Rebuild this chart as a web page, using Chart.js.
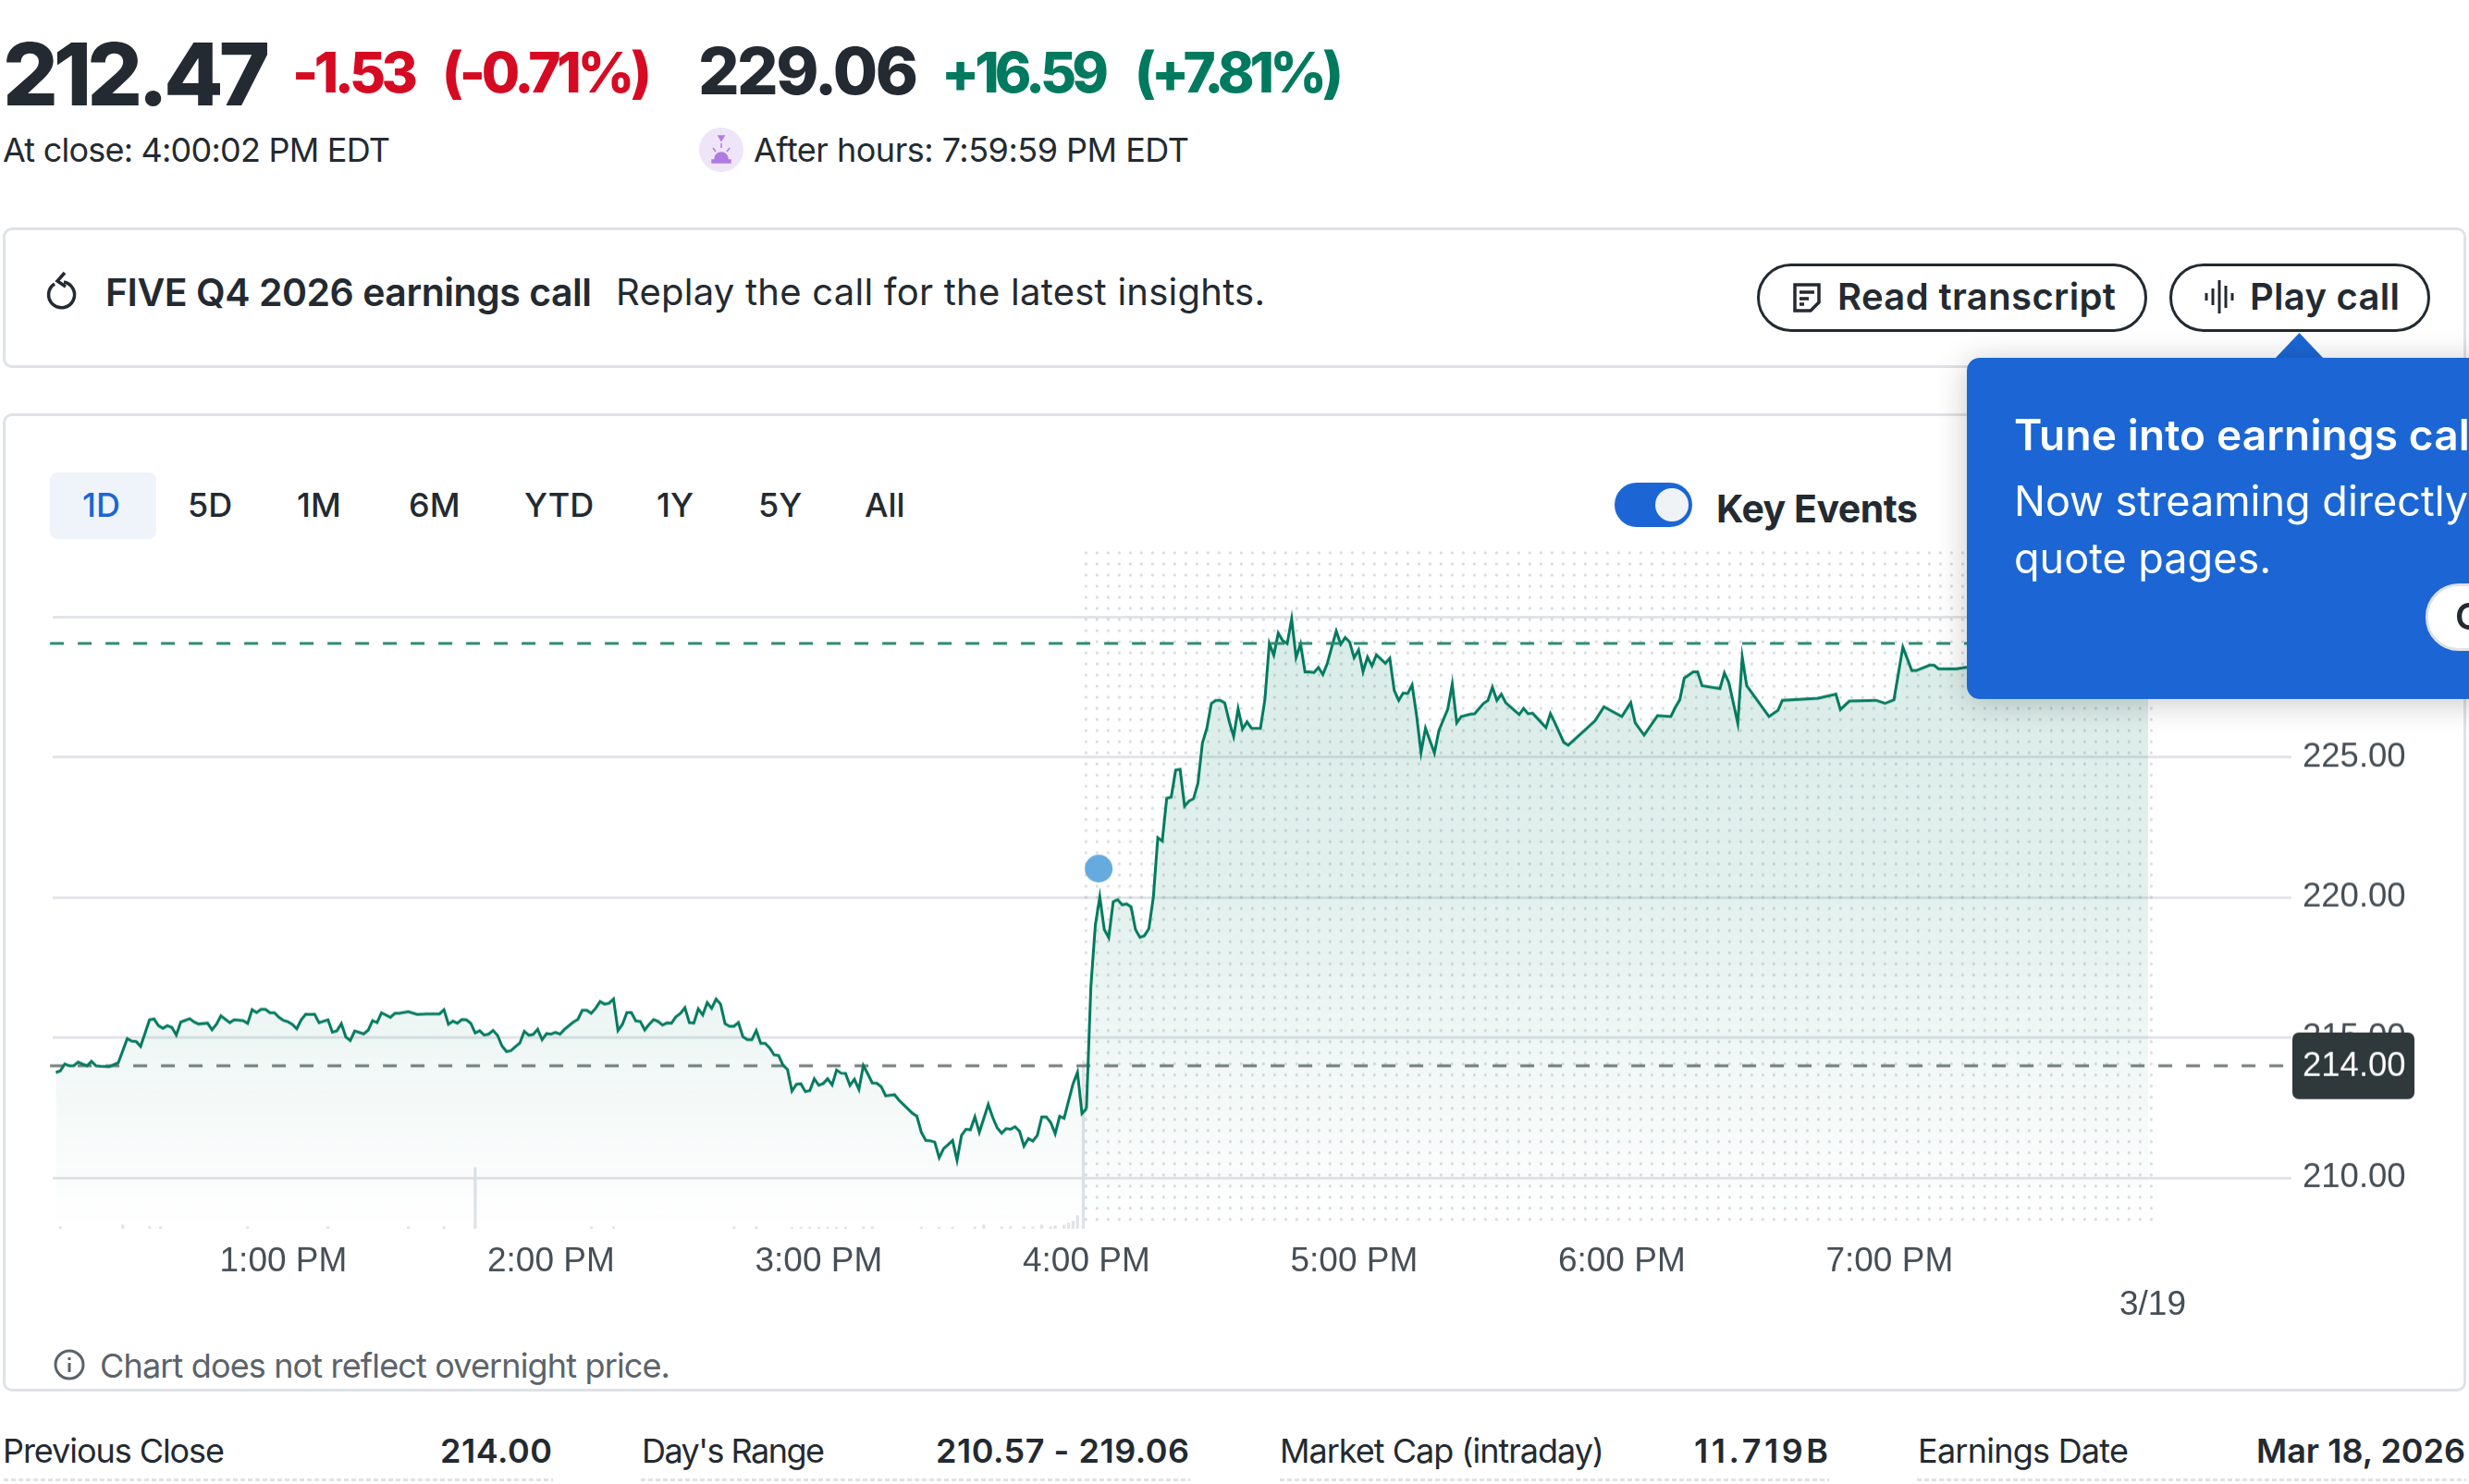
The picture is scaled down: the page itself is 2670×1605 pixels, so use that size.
<!DOCTYPE html>
<html>
<head>
<meta charset="utf-8">
<title>FIVE chart</title>
<script src="https://cdn.jsdelivr.net/npm/chart.js@4/dist/chart.umd.js"></script>
<style>
  html, body { margin: 0; padding: 0; background: #fff; overflow: hidden; width: 2670px; height: 1605px; }
  body { font-family: Inter, "Noto Sans", sans-serif; color: #232a31; position: relative; }
  .t { position: absolute; white-space: nowrap; line-height: 1; transform: translateY(-50%); }
  .card { position: absolute; left: 3px; width: 2664px; box-sizing: border-box; border: 3px solid #dfe2e6; border-radius: 10px; }
  .b { font-weight: 700; }
  .m { font-weight: 600; }
  .under { position: absolute; top: 1599px; height: 3px; background: repeating-linear-gradient(90deg, #dfe2e6 0 5px, transparent 5px 8px); }
  .btn { position: absolute; top: 285px; height: 74px; box-sizing: border-box; border: 3px solid #232a31; border-radius: 37px; }
  .tab { font-weight: 500; font-size: 36px; }
  svg { position: absolute; overflow: visible; }
  #chart { position: absolute; left: 57px; top: 560px; }
  #tip { position: absolute; left: 2127px; top: 387px; width: 600px; height: 369px; background: #1b66d4; border-radius: 14px; box-shadow: 0 4px 34px rgba(0,0,0,.22); z-index: 5; }
  .tipt { color: #fff; z-index: 6; }
</style>
</head>
<body>
<div class="t" style="left:3px;top:80px;font-size:94px;font-weight:800" data-w="289">212.47</div>
<div class="t" style="left:316px;top:78px;font-size:60px;font-weight:800;color:#d60a22" data-w="136">-1.53</div>
<div class="t" style="left:478px;top:78px;font-size:60px;font-weight:800;color:#d60a22" data-w="227">(-0.71%)</div>
<div class="t" style="left:755px;top:77px;font-size:70px;font-weight:800" data-w="238">229.06</div>
<div class="t" style="left:1018px;top:78px;font-size:60px;font-weight:800;color:#007a5e" data-w="181">+16.59</div>
<div class="t" style="left:1227px;top:78px;font-size:60px;font-weight:800;color:#007a5e" data-w="226">(+7.81%)</div>
<div class="t" style="left:3px;top:162px;font-size:36px" data-w="419">At close: 4:00:02 PM EDT</div>
<svg style="left:756px;top:138px" width="48" height="48" viewBox="0 0 48 48">
  <circle cx="24" cy="24" r="24" fill="#efe5f8"/>
  <path d="M21 9h6l-3 5zM24 17v5M15 22l3 4M33 22l-3 4M17 34a7 7 0 0 1 14 0zM14 35h20v3H14z" fill="#b07be0" stroke="#b07be0" stroke-width="1.5"/>
</svg>
<div class="t" style="left:815px;top:162px;font-size:36px" data-w="471">After hours: 7:59:59 PM EDT</div>

<div class="card" style="top:246px;height:152px"></div>
<svg style="left:50px;top:293px" width="34" height="40" viewBox="0 0 34 40" fill="none" stroke="#232a31" stroke-width="3.5">
  <path d="M9 14a14 14 0 1 0 10-2"/><path d="M20 2l-8 9 9 6" />
</svg>
<div class="t m" style="left:114px;top:316px;font-size:41px" data-w="526">FIVE Q4 2026 earnings call</div>
<div class="t" style="left:666px;top:316px;font-size:40px" data-w="702">Replay the call for the latest insights.</div>
<div class="btn" style="left:1900px;width:422px"></div>
<svg style="left:1938px;top:306px" width="32" height="32" viewBox="0 0 32 32" fill="none" stroke="#232a31" stroke-width="3.5">
  <path d="M3 2h26v19l-9 9H3z"/><path d="M8 10h16M8 17h10M8 23h5"/>
</svg>
<div class="t m" style="left:1987px;top:321px;font-size:40px" data-w="301">Read transcript</div>
<div class="btn" style="left:2346px;width:282px"></div>
<svg style="left:2384px;top:303px" width="32" height="36" viewBox="0 0 32 36" stroke="#232a31" stroke-width="3">
  <path d="M2 14v8M9 9v18M16 0v36M23 6v24M30 14v8"/>
</svg>
<div class="t m" style="left:2433px;top:321px;font-size:40px" data-w="162">Play call</div>

<div class="card" style="top:447px;height:1058px"></div>
<div style="position:absolute;left:54px;top:511px;width:115px;height:72px;background:#eff4fb;border-radius:8px"></div>
<div class="t tab" style="left:89px;top:546px;color:#1b66d4">1D</div>
<div class="t tab" style="left:203px;top:546px">5D</div>
<div class="t tab" style="left:321px;top:546px">1M</div>
<div class="t tab" style="left:442px;top:546px">6M</div>
<div class="t tab" style="left:567px;top:546px">YTD</div>
<div class="t tab" style="left:710px;top:546px">1Y</div>
<div class="t tab" style="left:820px;top:546px">5Y</div>
<div class="t tab" style="left:935px;top:546px">All</div>
<div style="position:absolute;left:1746px;top:522px;width:84px;height:48px;background:#1b66d4;border-radius:24px"></div>
<div style="position:absolute;left:1790px;top:528px;width:36px;height:36px;background:#f0f3f5;border-radius:50%"></div>
<div class="t b" style="left:1856px;top:550px;font-size:41px" data-w="218">Key Events</div>

<canvas id="chart" width="2563" height="880"></canvas>

<svg style="left:58px;top:1459px" width="34" height="34" viewBox="0 0 34 34" fill="none" stroke="#5b636a" stroke-width="3">
  <circle cx="17" cy="17" r="15"/><path d="M17 15v10M17 9v3"/>
</svg>
<div class="t" style="left:108px;top:1477px;font-size:36px;color:#5b636a" data-w="617">Chart does not reflect overnight price.</div>

<div class="t" style="left:3px;top:1569px;font-size:36px" data-w="240">Previous Close</div>
<div class="t m" style="left:476px;top:1569px;font-size:36px" data-w="121">214.00</div>
<div class="under" style="left:4px;width:594px"></div>
<div class="t" style="left:694px;top:1569px;font-size:36px" data-w="198">Day's Range</div>
<div class="t m" style="left:1012px;top:1569px;font-size:36px" data-w="274">210.57 - 219.06</div>
<div class="under" style="left:693px;width:594px"></div>
<div class="t" style="left:1384px;top:1569px;font-size:36px" data-w="351">Market Cap (intraday)</div>
<div class="t m" style="left:1832px;top:1569px;font-size:36px" data-w="145">11.719B</div>
<div class="under" style="left:1384px;width:594px"></div>
<div class="t" style="left:2074px;top:1569px;font-size:36px" data-w="228">Earnings Date</div>
<div class="t m" style="left:2440px;top:1569px;font-size:36px" data-w="226">Mar 18, 2026</div>
<div class="under" style="left:2073px;width:594px"></div>

<svg style="left:2460px;top:360px;z-index:5" width="53" height="28" viewBox="0 0 53 28"><path d="M26.5 0L53 28H0z" fill="#1b66d4"/></svg>
<div id="tip"></div>
<div class="t tipt m" style="left:2178px;top:470px;font-size:46px" data-w="505">Tune into earnings call</div>
<div class="t tipt" style="left:2178px;top:541px;font-size:45px">Now streaming directly on</div>
<div class="t tipt" style="left:2178px;top:603px;font-size:45px">quote pages.</div>
<div style="position:absolute;left:2623px;top:631px;width:120px;height:73px;box-sizing:border-box;background:#fff;border:3px solid #dfe2e6;border-radius:36px;z-index:6"></div>
<div class="t m" style="left:2655px;top:667px;font-size:40px;z-index:7">Got it</div>

<script>
// minutes after midnight, from the chart's time axis
const regularTimes = [
  729, 730, 731, 732, 733, 734, 735, 736, 737, 738,
  739, 741, 743, 745, 746, 747, 748, 750, 751, 752,
  753, 754, 755, 756, 757, 759, 760, 761, 763, 764,
  765, 766, 768, 769, 771, 772, 773, 774, 775, 776,
  777, 778, 779, 780, 781, 782, 783, 784, 785, 786,
  787, 788, 790, 791, 792, 793, 794, 795, 796, 798,
  799, 800, 801, 802, 804, 805, 806, 808, 810, 812,
  815, 816, 817, 818, 819, 820, 821, 822, 823, 824,
  825, 826, 827, 828, 829, 830, 831, 832, 833, 834,
  835, 836, 837, 838, 839, 840, 841, 842, 843, 845,
  846, 847, 848, 849, 850, 851, 852, 853, 854, 855,
  856, 857, 858, 859, 860, 861, 862, 863, 864, 865,
  866, 867, 868, 869, 870, 871, 872, 873, 874, 875,
  876, 877, 878, 879, 880, 881, 882, 883, 884, 885,
  886, 887, 888, 889, 890, 891, 892, 893, 894, 895,
  896, 897, 898, 899, 900, 901, 902, 903, 904, 905,
  906, 907, 908, 909, 910, 911, 912, 913, 914, 915,
  917, 918, 919, 920, 921, 922, 923, 924, 925, 926,
  927, 928, 929, 930, 931, 932, 933, 934, 935, 936,
  938, 939, 940, 941, 942, 943, 944, 945, 946, 947,
  948, 949, 950, 951, 952, 953, 954, 955, 956, 957,
  958, 959, 960
];
const regularValues = [
  213.76, 213.82, 214.06, 214.0, 214.0, 214.13, 214.06, 214.0, 214.16, 214.0,
  213.98, 213.97, 214.11, 214.97, 214.88, 214.87, 214.69, 215.64, 215.67, 215.43,
  215.34, 215.43, 215.37, 215.1, 215.56, 215.68, 215.56, 215.49, 215.52, 215.29,
  215.48, 215.78, 215.54, 215.64, 215.61, 215.51, 216.0, 215.9, 216.01, 216.01,
  215.89, 215.89, 215.73, 215.62, 215.57, 215.48, 215.32, 215.64, 215.84, 215.83,
  215.84, 215.54, 215.64, 215.2, 215.25, 215.5, 215.03, 214.9, 215.24, 215.14,
  215.27, 215.61, 215.54, 215.89, 215.73, 215.87, 215.87, 215.93, 215.83, 215.85,
  215.85, 216.0, 215.48, 215.59, 215.52, 215.65, 215.64, 215.52, 215.17, 215.25,
  215.1, 215.13, 215.26, 215.09, 214.71, 214.51, 214.54, 214.68, 214.81, 215.23,
  215.09, 215.12, 215.3, 214.93, 215.15, 215.13, 215.19, 215.13, 215.3, 215.56,
  215.65, 215.98, 215.98, 215.87, 216.05, 216.29, 216.2, 216.23, 216.38, 215.26,
  215.48, 215.9, 215.9, 215.6, 215.58, 215.28, 215.48, 215.65, 215.58, 215.45,
  215.53, 215.52, 215.75, 215.87, 216.07, 215.54, 215.52, 216.03, 215.81, 216.25,
  216.05, 216.38, 216.2, 215.5, 215.41, 215.41, 215.54, 215.04, 214.93, 214.93,
  215.26, 214.8, 214.8, 214.64, 214.39, 214.37, 214.02, 213.87, 213.1, 213.34,
  213.36, 213.08, 213.12, 213.54, 213.31, 213.37, 213.54, 213.32, 213.85, 213.74,
  213.73, 213.3, 213.52, 213.16, 214.01, 213.71, 213.39, 213.38, 213.26, 212.93,
  212.97, 212.77, 212.62, 212.46, 212.31, 212.2, 211.63, 211.34, 211.33, 211.28,
  210.72, 211.05, 211.19, 211.34, 210.63, 211.52, 211.74, 211.72, 212.18, 211.63,
  212.62, 212.16, 211.79, 211.6, 211.76, 211.74, 211.83, 211.67, 211.14, 211.41,
  211.32, 211.52, 212.18, 212.18, 211.98, 211.58, 212.2, 212.13, 212.75, 213.36,
  213.77, 212.3, 212.47
];
const afterTimes = [
  960, 961, 962, 963, 964, 965, 966, 967, 968, 969,
  970, 971, 972, 973, 974, 975, 976, 977, 978, 979,
  980, 981, 982, 983, 984, 985, 986, 987, 988, 989,
  990, 991, 992, 993, 994, 995, 996, 997, 999, 1000,
  1001, 1002, 1003, 1004, 1005, 1006, 1007, 1008, 1009, 1010,
  1011, 1012, 1013, 1014, 1015, 1016, 1017, 1018, 1019, 1020,
  1021, 1022, 1023, 1024, 1025, 1027, 1028, 1029, 1030, 1031,
  1032, 1033, 1034, 1035, 1036, 1038, 1039, 1041, 1042, 1043,
  1044, 1046, 1047, 1049, 1050, 1051, 1052, 1053, 1054, 1057,
  1058, 1059, 1060, 1063, 1064, 1065, 1067, 1068, 1074, 1076,
  1080, 1082, 1083, 1085, 1088, 1091, 1092, 1093, 1094, 1096,
  1097, 1098, 1102, 1103, 1104, 1106, 1107, 1108, 1113, 1115,
  1116, 1124, 1128, 1129, 1131, 1137, 1139, 1141, 1143, 1145,
  1146, 1149, 1150, 1151, 1155, 1157, 1165, 1175, 1188, 1198
];
const afterValues = [
  212.47, 216.82, 219.02, 220.03, 218.86, 218.57, 219.85, 219.92, 219.74, 219.77,
  219.67, 218.86, 218.58, 218.64, 218.89, 220.01, 222.13, 222.01, 223.54, 223.58,
  224.54, 224.57, 223.26, 223.44, 223.52, 224.08, 225.51, 226.04, 226.92, 227.03,
  227.03, 226.94, 226.28, 225.74, 226.73, 226.01, 226.26, 226.04, 226.03, 227.05,
  229.06, 228.64, 229.43, 229.16, 229.05, 229.93, 228.56, 229.04, 228.04, 228.04,
  228.02, 228.2, 227.95, 228.35, 228.94, 229.5, 229.03, 229.27, 229.11, 228.55,
  228.83, 228.05, 228.57, 228.26, 228.65, 228.35, 228.53, 227.38, 227.03, 227.29,
  227.27, 227.58, 226.5, 225.17, 226.04, 225.15, 225.95, 226.72, 227.61, 226.23,
  226.45, 226.53, 226.55, 226.92, 227.03, 227.5, 227.03, 227.25, 226.94, 226.52,
  226.74, 226.55, 226.57, 226.06, 226.56, 226.23, 225.53, 225.43, 226.3, 226.8,
  226.45, 226.95, 226.23, 225.79, 226.48, 226.45, 226.78, 227.05, 227.82, 228.04,
  228.04, 227.55, 227.45, 228.01, 227.66, 226.21, 228.57, 227.55, 226.45, 226.67,
  227.03, 227.1, 227.25, 226.7, 227.0, 227.03, 226.92, 227.05, 228.93, 228.09,
  228.09, 228.28, 228.28, 228.15, 228.15, 228.2, 228.3, 228.5, 228.7, 229.06
];
const volumeTimes = [
  730, 744, 750, 752.5, 772, 790, 808, 816, 823, 849,
  854, 881, 886, 894, 896, 898, 900, 902, 904, 906,
  910, 912, 923, 927, 930, 935, 937, 941, 943, 946,
  948, 950, 952, 953, 955, 956, 957, 958, 959.3
];
const volumeValues = [
  2, 4, 2, 2, 2, 2, 2, 2, 66, 2,
  2, 2, 2, 1.5, 1.5, 1.5, 1.5, 1.5, 1.5, 1.5,
  2, 2, 1.5, 1.5, 1.5, 2, 4, 2, 2, 2,
  2, 4, 2, 3, 4, 6, 8, 14, 181
];
const volumeMax = 732;
const previousClose = 214.0;
const afterHoursPrice = 229.06;
const eventTimes = [962.75];
const eventValues = [221.03];
const priceTicks = [210, 215, 220, 225, 230];
const timeTicks = [780, 840, 900, 960, 1020, 1080, 1140, 1199];
const timeLabels = ["1:00 PM", "2:00 PM", "3:00 PM", "4:00 PM", "5:00 PM", "6:00 PM", "7:00 PM", ["", "3/19"]];

const xMin = 728.3, xMax = 1230.1;
const yMin = 208.195, yMax = 232.353;
const plotLeft = 57, plotTop = 596, plotWidth = 2421, plotHeight = 732;
const refLineStart = 727.7;

const GREEN = "#007a5e";
const pairs = (xs, ys) => xs.map((x, i) => ({ x: x, y: ys[i] }));

function fade(context) {
  const area = context.chart.chartArea;
  if (!area) return "rgba(0,128,100,0.1)";
  const g = context.chart.ctx.createLinearGradient(0, area.top, 0, area.bottom);
  g.addColorStop(0, "rgba(0,128,100,0.155)");
  g.addColorStop(0.5, "rgba(0,128,100,0.115)");
  g.addColorStop(1, "rgba(0,128,100,0)");
  return g;
}

// dotted backdrop behind the after hours session
const dotsPlugin = {
  id: "dots",
  beforeDatasetsDraw(chart) {
    const ctx = chart.ctx, area = chart.chartArea, sx = chart.scales.x;
    const x0 = sx.getPixelForValue(960), x1 = sx.getPixelForValue(1200);
    ctx.save();
    ctx.fillStyle = "rgba(120,130,135,0.28)";
    for (let x = x0 - 0.5; x <= x1; x += 12) {
      for (let y = area.top + 2; y <= area.bottom; y += 12) {
        ctx.beginPath();
        ctx.arc(x, y, 1.6, 0, Math.PI * 2);
        ctx.fill();
      }
    }
    ctx.restore();
  },
};

// dark price tag for the previous close
const badgePlugin = {
  id: "badge",
  afterDraw(chart) {
    const ctx = chart.ctx, area = chart.chartArea;
    const y = chart.scales.y.getPixelForValue(previousClose);
    ctx.save();
    ctx.fillStyle = "#2f383b";
    ctx.beginPath();
    ctx.roundRect(area.right + 1, y - 36, 132, 72, 7);
    ctx.fill();
    ctx.fillStyle = "#fff";
    ctx.font = '36.5px "Liberation Sans"';
    ctx.textBaseline = "middle";
    ctx.fillText(previousClose.toFixed(2), area.right + 12, y + 1);
    ctx.restore();
  },
};

const chart = new Chart(document.getElementById("chart"), {
  type: "line",
  data: {
    datasets: [
      {
        type: "bar",
        data: pairs(volumeTimes, volumeValues),
        yAxisID: "vol",
        backgroundColor: "#dfe2e6",
        barThickness: 2.6,
        order: 7,
      },
      {
        data: pairs([refLineStart, xMax], [previousClose, previousClose]),
        borderColor: "#72797b",
        borderWidth: 3,
        borderDash: [15, 15],
        clip: false,
        order: 5,
      },
      {
        data: pairs(regularTimes, regularValues),
        borderColor: GREEN,
        borderWidth: 3,
        borderJoinStyle: "miter",
        fill: "start",
        backgroundColor: fade,
        order: 4,
      },
      {
        data: pairs(afterTimes, afterValues),
        borderColor: GREEN,
        borderWidth: 3,
        borderJoinStyle: "miter",
        fill: "start",
        backgroundColor: fade,
        order: 3,
      },
      {
        data: pairs([refLineStart, xMax], [afterHoursPrice, afterHoursPrice]),
        borderColor: "#2c8a76",
        borderWidth: 3,
        borderDash: [15, 15],
        clip: false,
        order: 2,
      },
      {
        data: pairs(eventTimes, eventValues),
        showLine: false,
        pointRadius: 15,
        pointBackgroundColor: "#66abde",
        pointBorderWidth: 0,
        order: 1,
      },
    ],
  },
  options: {
    responsive: false,
    maintainAspectRatio: false,
    animation: false,
    layout: { padding: { left: 6 } },
    elements: { point: { radius: 0 }, line: { tension: 0 } },
    plugins: { legend: { display: false }, tooltip: { enabled: false } },
    scales: {
      x: {
        type: "linear",
        min: xMin,
        max: xMax,
        offset: false,
        grid: { display: false },
        border: { display: false },
        afterBuildTicks: (axis) => { axis.ticks = timeTicks.map((v) => ({ value: v })); },
        afterFit: (axis) => { axis.height = 110; },
        ticks: {
          autoSkip: false,
          maxRotation: 0,
          padding: 5,
          color: "#464e56",
          font: { family: "Liberation Sans", size: 37, lineHeight: 1.26 },
          callback: (v) => timeLabels[timeTicks.indexOf(v)],
        },
      },
      y: {
        type: "linear",
        position: "right",
        min: yMin,
        max: yMax,
        grid: { color: "#dfe2e6", lineWidth: 2.7, drawTicks: false },
        border: { display: false },
        afterBuildTicks: (axis) => { axis.ticks = priceTicks.map((v) => ({ value: v })); },
        afterFit: (axis) => { axis.width = 142; },
        ticks: {
          padding: 12,
          color: "#464e56",
          font: { family: "Liberation Sans", size: 36.5 },
          callback: (v) => v.toFixed(2),
        },
      },
      vol: { type: "linear", display: false, min: 0, max: volumeMax },
    },
  },
  plugins: [dotsPlugin, badgePlugin],
});

// line the plot area up with where it sits on the page
const canvas = chart.canvas;
chart.resize(canvas.width + plotWidth - chart.chartArea.width, canvas.height + plotHeight - chart.chartArea.height);
canvas.style.left = plotLeft - chart.chartArea.left + "px";
canvas.style.top = plotTop - chart.chartArea.top + "px";

// squeeze each label to the width it has in the picture
document.querySelectorAll("[data-w]").forEach((el) => {
  const extra = Number(el.dataset.w) - el.getBoundingClientRect().width;
  el.style.letterSpacing = extra / (el.textContent.length - 1) + "px";
});
</script>
</body>
</html>
